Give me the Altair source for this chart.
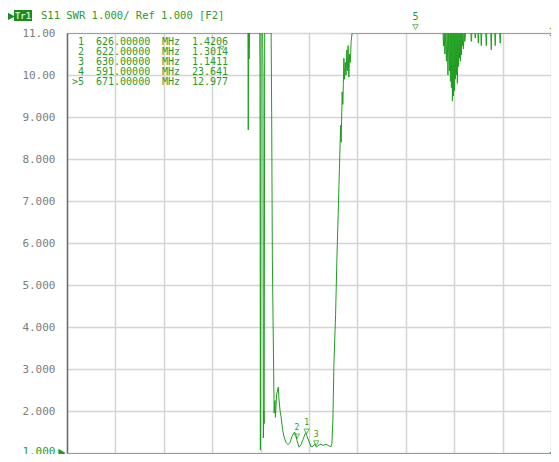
import altair as alt
import pandas as pd

GREEN = "#1f9e1f"
TEXT_GREEN = "#2a9a2a"
MONO = "DejaVu Sans Mono"
OFF = 20.0  # off-scale value (clipped at top of the 1..11 scale)

F_START, F_STOP = 527.0, 727.0
grid_freqs = [527, 547, 567, 587, 607, 627, 647, 667, 687, 707, 727]
swr_ticks = [1, 2, 3, 4, 5, 6, 7, 8, 9, 10, 11]

trace_freq = [
    527.0, 591.0, 601.77, 601.90, 602.06, 602.27, 602.43,
    606.63, 606.75, 606.92, 607.16, 607.86, 607.99, 608.15, 608.32, 608.48, 608.69,
    611.36, 611.57, 611.86, 612.60, 612.93, 613.13, 613.63, 614.04, 614.32, 614.57,
    615.07, 615.48, 616.09, 616.71, 617.53, 618.36, 619.18, 620.00, 621.03, 621.65,
    622.00, 622.88, 623.71, 624.53, 625.35, 625.76, 626.00, 627.00, 627.82, 628.65,
    629.47, 630.00, 631.11, 631.94, 632.76, 633.58, 634.41, 635.23, 636.05, 636.46,
    636.88, 637.29, 637.99, 638.52, 639.06, 639.63, 640.05, 640.29, 640.70, 640.99,
    641.20, 641.40, 641.69, 642.02, 642.31, 642.64, 642.88, 643.17, 643.46, 643.75,
    644.08, 644.41, 644.82, 671.0,
    682.40, 682.55, 682.85, 683.17, 683.50, 683.79, 684.10, 684.41, 684.70, 685.03,
    685.25, 685.44, 685.65, 685.85, 686.05, 686.26, 686.45, 686.67, 686.88, 687.08,
    687.30, 687.49, 687.70, 687.90, 688.10, 688.31, 688.50, 688.73, 688.95, 689.14,
    689.35, 689.55, 689.75, 689.96, 690.15, 690.37, 690.60, 690.79, 691.10, 691.40,
    691.70, 693.90, 694.08, 694.30, 695.50, 695.72, 695.90, 696.80, 696.96, 697.15,
    698.00, 698.19, 698.40, 700.05, 700.25, 700.45, 702.10, 702.31, 702.50, 703.75,
    703.95, 704.15, 705.80, 706.01, 706.20, 727.0,
]
trace_swr = [
    OFF, 23.641, OFF, 8.69, OFF, 10.38, OFF,
    OFF, 10.17, 1.07, OFF, OFF, 10.0, 1.36, 2.0, 1.7, OFF,
    OFF, 9.1, 5.6, 1.95, 2.25, 1.85, 2.4, 2.5, 2.57, 2.3,
    2.0, 1.85, 1.55, 1.38, 1.25, 1.2, 1.25, 1.4, 1.5, 1.42,
    1.3014, 1.14, 1.2, 1.32, 1.45, 1.48, 1.4206, 1.28, 1.15, 1.16,
    1.22, 1.1411, 1.19, 1.21, 1.18, 1.2, 1.2, 1.17, 1.15, 1.22,
    1.8, 3.1, 4.3, 5.6, 6.7, 7.9, 8.8, 8.4, 9.6, 9.3,
    9.8, 10.4, 9.9, 10.3, 10.0, 10.6, 10.1, 10.7, 9.95, 10.5,
    10.3, 10.8, OFF, 12.977,
    OFF, 10.69, OFF, 10.5, OFF, 10.33, OFF, 10.0, OFF, 10.1,
    OFF, 9.85, OFF, 9.7, OFF, 9.38, OFF, 9.5, OFF, 9.62,
    OFF, 9.9, OFF, 10.0, OFF, 9.8, OFF, 10.2, OFF, 10.4,
    OFF, 10.33, OFF, 10.48, OFF, 10.7, OFF, 10.62, OFF, 10.8,
    OFF, OFF, 10.8, OFF, OFF, 10.88, OFF, OFF, 10.76, OFF,
    OFF, 10.7, OFF, OFF, 10.7, OFF, OFF, 10.6, OFF, OFF,
    10.7, OFF, OFF, 10.76, OFF, OFF,
]

marker_labels = ["1", "2", "3", "4", ">5"]
marker_ids = ["1", "2", "3", "4", "5"]
marker_freq = [626.0, 622.0, 630.0, 591.0, 671.0]
marker_freq_txt = ["626.00000", "622.00000", "630.00000", "591.00000", "671.00000"]
marker_val = [1.4206, 1.3014, 1.1411, 23.641, 12.977]
marker_val_txt = ["1.4206", "1.3014", "1.1411", "23.641", "12.977"]
marker_active = [False, False, False, False, True]

title_text = "S11 SWR 1.000/ Ref 1.000 [F2]"
trace_name = "Tr1"
trace_arrow = "\u25B6"
right_edge_label = "3"

trace = pd.DataFrame({"freq": trace_freq, "swr": trace_swr})
mk = pd.DataFrame({
    "freq": marker_freq, "swr": marker_val, "id": marker_ids,
    "active": marker_active,
})
mk["onscale"] = mk["swr"] <= 11
mk_on = mk[mk["onscale"]]
mk_off_act = mk[(~mk["onscale"]) & mk["active"]]
mk_off_in = mk[(~mk["onscale"]) & (~mk["active"])]

xs = alt.Scale(domain=[F_START, F_STOP], nice=False, zero=False)
ys = alt.Scale(domain=[1, 11], nice=False, zero=False, clamp=True)

x_axis = alt.Axis(values=grid_freqs, labels=False, ticks=False, title=None,
                  grid=True, gridColor="#d4d4d4", gridWidth=1.5,
                  domainColor="#9a9a9a", domainWidth=1)
y_axis = alt.Axis(values=swr_ticks, ticks=False, title=None, grid=True,
                  gridColor="#d4d4d4", gridWidth=1.5,
                  domainColor="#6e6e6e", domainWidth=1.5,
                  labelFont=MONO, labelFontSize=11, labelPadding=12,
                  labelExpr="datum.value >= 10 ? format(datum.value, '.2f') : format(datum.value, '.3f')",
                  labelBaseline={"condition": {"test": "datum.value == 1", "value": "alphabetic"},
                                 "value": "middle"},
                  labelOffset={"condition": {"test": "datum.value == 1", "value": 1},
                               "value": 0},
                  labelColor={"condition": {"test": "datum.value == 1", "value": GREEN},
                              "value": "#7d7d7d"})

line = alt.Chart(trace).mark_line(color=GREEN, strokeWidth=1, clip=True).encode(
    x=alt.X("freq:Q", scale=xs, axis=x_axis),
    y=alt.Y("swr:Q", scale=ys, axis=y_axis),
    order="freq:Q",
)

X = alt.X("freq:Q", scale=xs)
Y = alt.Y("swr:Q", scale=ys)

# markers on trace (on-scale)
on_tri = alt.Chart(mk_on).mark_point(shape="triangle-down", filled=False, color=GREEN,
                                     size=28, strokeWidth=1, yOffset=-4).encode(x=X, y=Y)
on_lab = alt.Chart(mk_on).mark_text(font=MONO, fontSize=8, color=GREEN, dy=-12).encode(
    x=X, y=Y, text="id:N")

# active off-scale marker above the top edge
top_tri = alt.Chart(mk_off_act).mark_point(shape="triangle-down", filled=False, color=GREEN,
                                           size=30, strokeWidth=1, yOffset=-6).encode(
    x=X, y=alt.Y("top:Q", scale=ys)).transform_calculate(top="11")
top_lab = alt.Chart(mk_off_act).mark_text(font=MONO, fontSize=10, color=GREEN, dy=-16).encode(
    x=X, y=alt.Y("top:Q", scale=ys), text="id:N").transform_calculate(top="11")

# inactive off-scale marker just inside the top edge
in_tri = alt.Chart(mk_off_in).mark_point(shape="triangle-down", filled=False, color=GREEN,
                                         size=18, strokeWidth=1, yOffset=15).encode(
    x=X, y=alt.Y("top:Q", scale=ys)).transform_calculate(top="11")

# stimulus markers on the bottom edge
bot_tri = alt.Chart(mk).mark_point(shape="triangle-up", color=GREEN, size=55,
                                   strokeWidth=1, yOffset=4).encode(
    x=X, y=alt.Y("bot:Q", scale=ys),
    fill=alt.condition("datum.active", alt.value(GREEN), alt.value("white")),
).transform_calculate(bot="1")

# reference level pointers
ref_df = pd.DataFrame({"freq": [F_START, F_STOP], "swr": [1.0, 1.0]})
ref_l = alt.Chart(ref_df.iloc[[0]]).mark_point(shape="triangle-right", filled=True,
                                               color=GREEN, size=70, xOffset=-5, opacity=1).encode(x=X, y=Y)
ref_r = alt.Chart(ref_df.iloc[[1]]).mark_point(shape="triangle-left", filled=True,
                                               color=GREEN, size=70, xOffset=2, opacity=1).encode(x=X, y=Y)
edge_df = pd.DataFrame({"freq": [F_STOP], "swr": [11.0], "t": [right_edge_label]})
edge_lab = alt.Chart(edge_df).mark_text(font=MONO, fontSize=10, color=GREEN, align="right",
                                        dx=4).encode(x=X, y=Y, text="t:N")

# marker table
tbl = pd.DataFrame({
    "lab": ["\n".join(marker_labels)],
    "fr": ["\n".join(marker_freq_txt)],
    "mhz": ["\n".join(["MHz"] * len(marker_freq_txt))],
    "val": ["\n".join(marker_val_txt)],
})
def col(field, x, align):
    return alt.Chart(tbl).mark_text(font=MONO, fontSize=10, color=TEXT_GREEN,
                                    align=align, baseline="top", lineBreak="\n",
                                    lineHeight=10).encode(
        x=alt.value(x), y=alt.value(4), text=f"{field}:N")
t1 = col("lab", 17, "right")
t2 = col("fr", 29, "left")
t3 = col("mhz", 95, "left")
t4 = col("val", 125, "left")

# header
hdr = pd.DataFrame({"name": [trace_name], "title": [title_text], "arrow": [trace_arrow]})
h_box = alt.Chart(hdr).mark_rect(color="#1f8a1f").encode(
    x=alt.value(-53), x2=alt.value(-35), y=alt.value(-23), y2=alt.value(-12))
h_name = alt.Chart(hdr).mark_text(font=MONO, fontSize=9, fontWeight="bold",
                                  color="#bff0bf", baseline="middle").encode(
    x=alt.value(-44), y=alt.value(-17.5), text="name:N")
h_arrow = alt.Chart(hdr).mark_text(font="DejaVu Sans", fontSize=10, color="#1f8a1f",
                                   align="center", baseline="middle").encode(
    x=alt.value(-56), y=alt.value(-17.5), text="arrow:N")
h_title = alt.Chart(hdr).mark_text(font=MONO, fontSize=10.5, color=TEXT_GREEN,
                                   align="left", baseline="middle").encode(
    x=alt.value(-26), y=alt.value(-17.5), text="title:N")

chart = alt.layer(
    line, on_tri, on_lab, top_tri, top_lab, in_tri, bot_tri, ref_l, ref_r, edge_lab,
    t1, t2, t3, t4, h_box, h_name, h_arrow, h_title,
).properties(
    width=484, height=420,
    autosize=alt.AutoSizeParams(type="none"),
    padding={"left": 59, "top": 25, "right": 0, "bottom": 1},
    background="white",
).configure_view(stroke="#a0a0a0", strokeWidth=1)

chart.save("out.html", embed_options={"renderer": "svg", "actions": False})
